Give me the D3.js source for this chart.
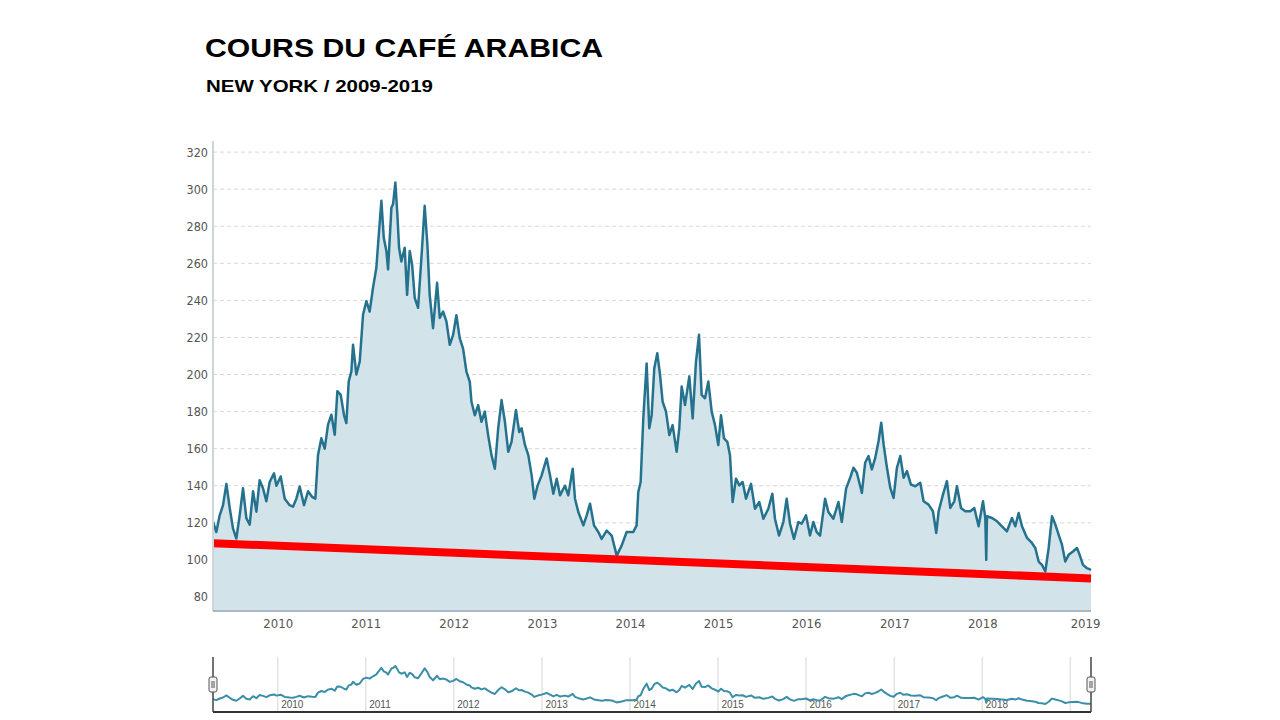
<!DOCTYPE html>
<html lang="fr">
<head>
<meta charset="utf-8">
<title>Cours du café arabica</title>
<script src="https://cdn.jsdelivr.net/npm/d3@7/dist/d3.min.js"></script>
<style>
  html, body { margin: 0; padding: 0; background: #fff; }
  svg { display: block; }
  .title { font-family: "Liberation Sans", Arial, sans-serif; font-weight: bold; fill: #000; }
  .tick-label { font-family: "DejaVu Sans Condensed", "Liberation Sans Narrow", sans-serif; font-size: 12.5px; fill: #555; }
  .nav-label { font-family: "Liberation Sans", Arial, sans-serif; font-size: 10px; fill: #555; }
</style>
</head>
<body>
<svg width="1280" height="720"></svg>
<script>
// decimal years
const years = [
  2009.265, 2009.303, 2009.341, 2009.379, 2009.417, 2009.455, 2009.492, 2009.530, 2009.568, 2009.606,
  2009.644, 2009.682, 2009.720, 2009.758, 2009.795, 2009.833, 2009.871, 2009.909, 2009.958, 2009.985,
  2010.034, 2010.080, 2010.136, 2010.174, 2010.212, 2010.250, 2010.299, 2010.345, 2010.390, 2010.428,
  2010.458, 2010.496, 2010.534, 2010.572, 2010.610, 2010.648, 2010.678, 2010.716, 2010.754, 2010.780,
  2010.807, 2010.837, 2010.856, 2010.894, 2010.932, 2010.970, 2011.008, 2011.045, 2011.083, 2011.121,
  2011.140, 2011.178, 2011.205, 2011.235, 2011.254, 2011.292, 2011.311, 2011.337, 2011.360, 2011.379,
  2011.405, 2011.443, 2011.470, 2011.500, 2011.527, 2011.557, 2011.595, 2011.633, 2011.670, 2011.701,
  2011.727, 2011.765, 2011.811,
  2011.841, 2011.879, 2011.917, 2011.955, 2011.993, 2012.030, 2012.068, 2012.106, 2012.144, 2012.182,
  2012.201, 2012.239, 2012.277, 2012.314, 2012.352, 2012.390, 2012.428, 2012.466, 2012.504, 2012.542,
  2012.580, 2012.618, 2012.655, 2012.705, 2012.742, 2012.769, 2012.807, 2012.845, 2012.883, 2012.913,
  2012.951, 2012.996, 2013.053, 2013.091, 2013.129, 2013.167, 2013.205, 2013.261, 2013.299, 2013.349,
  2013.375, 2013.413, 2013.470, 2013.508, 2013.546, 2013.591, 2013.640, 2013.678, 2013.735, 2013.792,
  2013.849, 2013.905, 2013.962,
  2014.038, 2014.075, 2014.094, 2014.121, 2014.151, 2014.189, 2014.219, 2014.246, 2014.276, 2014.310,
  2014.341, 2014.371, 2014.409, 2014.447, 2014.484, 2014.530, 2014.560, 2014.587, 2014.625, 2014.674,
  2014.712, 2014.750, 2014.784, 2014.814, 2014.852, 2014.890, 2014.928, 2014.966, 2015.003, 2015.034,
  2015.068, 2015.106, 2015.136, 2015.166, 2015.204, 2015.242, 2015.280, 2015.318, 2015.375, 2015.420,
  2015.469, 2015.515, 2015.572, 2015.617, 2015.647, 2015.693, 2015.742, 2015.780, 2015.818, 2015.863,
  2015.913, 2015.950, 2016.000, 2016.045, 2016.083, 2016.121, 2016.159, 2016.216, 2016.253, 2016.310,
  2016.367, 2016.405, 2016.454,
  2016.500, 2016.538, 2016.576, 2016.633, 2016.670, 2016.708, 2016.746, 2016.784, 2016.822, 2016.852,
  2016.879, 2016.917, 2016.955, 2016.992, 2017.030, 2017.068, 2017.106, 2017.144, 2017.189, 2017.239,
  2017.295, 2017.333, 2017.390, 2017.439, 2017.477, 2017.504, 2017.553, 2017.598, 2017.636, 2017.682,
  2017.712, 2017.758, 2017.807, 2017.864, 2017.909, 2017.958, 2018.008, 2018.034, 2018.045, 2018.053,
  2018.110, 2018.167, 2018.223, 2018.280, 2018.337, 2018.375, 2018.413, 2018.451, 2018.508, 2018.564,
  2018.602, 2018.640, 2018.678, 2018.716, 2018.754, 2018.792, 2018.830, 2018.867, 2018.905, 2018.943,
  2018.981, 2019.030, 2019.076, 2019.106, 2019.144, 2019.189, 2019.235
];

// US cents per pound
const prices = [
  120.6, 115, 124, 129.5, 141, 128, 117, 111.5, 124, 138.6,
  122.5, 119, 137, 126, 143, 138.6, 131.6, 142, 146.7, 140,
  145, 133, 129.5, 128.7, 133, 139.5, 129.5, 137, 134, 133,
  156.6, 165.6, 160, 173, 178.3, 167.5, 191, 189, 178, 173.8,
  196.3, 201.7, 216, 200, 207, 232.4, 239.6, 234, 246.8, 257.6,
  270, 293.7, 273.8, 266.6, 256.7, 290, 292, 303.6, 286, 268.4,
  261, 268.4, 243, 266.6, 259.4, 241.4, 236, 263, 291, 270,
  243, 225, 249.5,
  230.5, 234, 228.7, 216, 221.4, 232, 219.6, 214, 201.6, 196,
  185.3, 178, 183.5, 174.5, 180, 167.3, 156.5, 149.2, 171, 186.2,
  174.5, 158.3, 163.7, 180.8, 169, 171, 162, 156.5, 145.6, 133,
  140.2, 145.6, 154.7, 145.6, 135.7, 143.8, 134.8, 140, 134.8, 149.2,
  133, 125.8, 118.6, 124, 130.3, 118.6, 115, 111.3, 115.8, 113.1,
  102.3, 107.7, 115,
  115, 118.6, 136.6, 142, 176.3, 206, 171, 178, 203.4, 211.5,
  200, 185.3, 180, 167.3, 172.7, 158.3, 171, 193.5, 183.5, 199,
  176.3, 207, 221.4, 189, 187.2, 196.2, 180, 172.7, 161.9, 178,
  165.5, 163.7, 156.5, 131.2, 143.8, 140.2, 142, 133, 141, 127.6,
  131.2, 122.2, 127.6, 135.7, 122.2, 113.1, 120.4, 133, 119.5, 111.3,
  120.4, 119.5, 124, 113.1, 120.4, 115, 113.1, 133, 125.8, 122.2,
  131.2, 120.4, 138.4,
  144.3, 149.7, 147, 136.1, 152.4, 156, 148.8, 155, 164.1, 174,
  162.3, 149.7, 138.8, 133.4, 149.7, 156, 144.3, 147.9, 140.6, 139.7,
  141.6, 131.6, 129.8, 126.2, 114.5, 126.2, 135.2, 142.5, 128, 131.6,
  139.7, 128, 126.2, 126.2, 128, 118.1, 131.6, 122.6, 100, 123.5,
  122.6, 120.8, 118.1, 115.4, 122.6, 118.1, 125.3, 118.1, 111.8, 109.1,
  106.4, 99.1, 97.3, 93.7, 106.4, 123.5, 119, 113.6, 108.2, 99.1,
  102.7, 104.5, 106.4, 102.7, 97.3, 95.5, 94.6
];

// red trend line, value at the first and last date
const trendValues = [109, 90];

const yTicks = [80, 100, 120, 140, 160, 180, 200, 220, 240, 260, 280, 300, 320];
const xTickYears = [2010, 2011, 2012, 2013, 2014, 2015, 2016, 2017, 2018];
const navYears = [2010, 2011, 2012, 2013, 2014, 2015, 2016, 2017, 2018, 2019];

const toDate = y => {
  const yr = Math.floor(y);
  const start = new Date(yr, 0, 1);
  const end = new Date(yr + 1, 0, 1);
  return new Date(+start + (y - yr) * (end - start));
};

const onReady = () => {
  const svg = d3.select("svg");
  const data = years.map((y, i) => ({ date: toDate(y), value: prices[i] }));

  // ** TITLES ** //
  svg.append("text").attr("class", "title")
    .attr("x", 205).attr("y", 57)
    .attr("font-size", 26)
    .attr("textLength", 398).attr("lengthAdjust", "spacingAndGlyphs")
    .text("COURS DU CAFÉ ARABICA");
  svg.append("text").attr("class", "title")
    .attr("x", 206).attr("y", 92)
    .attr("font-size", 17)
    .attr("textLength", 227).attr("lengthAdjust", "spacingAndGlyphs")
    .text("NEW YORK / 2009-2019");

  // ** SCALES ** //
  const x = d3.scaleTime()
    .domain(d3.extent(data, d => d.date))
    .range([213, 1091]);
  const y = d3.scaleLinear()
    .domain([72.4, 326])
    .range([611, 141]);

  // ** GRID ** //
  svg.append("g")
    .selectAll("line")
    .data(yTicks)
    .join("line")
    .attr("x1", x.range()[0]).attr("x2", x.range()[1])
    .attr("y1", d => y(d)).attr("y2", d => y(d))
    .attr("stroke", "#d9d9d9")
    .attr("stroke-width", 1)
    .attr("stroke-dasharray", "4,3");

  // ** AREA + LINE ** //
  const area = d3.area()
    .x(d => x(d.date))
    .y0(y.range()[0])
    .y1(d => y(d.value));
  const line = d3.line()
    .x(d => x(d.date))
    .y(d => y(d.value));

  svg.append("path").datum(data)
    .attr("d", area)
    .attr("fill", "#d3e3ea");
  svg.append("path").datum(data)
    .attr("d", line)
    .attr("fill", "none")
    .attr("stroke", "#25728f")
    .attr("stroke-width", 2.5)
    .attr("stroke-linejoin", "round");

  // red trend
  const dom = x.domain();
  svg.append("line")
    .attr("x1", x(dom[0])).attr("y1", y(trendValues[0]))
    .attr("x2", x(dom[1])).attr("y2", y(trendValues[1]))
    .attr("stroke", "#ff0000")
    .attr("stroke-width", 8);

  // ** AXES ** //
  const yAxis = svg.append("g")
    .attr("transform", `translate(${x.range()[0]},0)`)
    .call(d3.axisLeft(y).tickValues(yTicks).tickSize(0).tickPadding(5));
  yAxis.select(".domain").remove();
  yAxis.selectAll("text").attr("class", "tick-label").attr("font-family", null).attr("font-size", null);

  svg.append("line")
    .attr("x1", x.range()[0]).attr("x2", x.range()[0])
    .attr("y1", y.range()[1]).attr("y2", y.range()[0])
    .attr("stroke", "#cdd5db").attr("stroke-width", 2);

  // last label sits at the end of the data
  const xTickDates = xTickYears.map(v => new Date(v, 0, 1)).concat([dom[1]]);
  const xAxis = svg.append("g")
    .attr("transform", `translate(0,${y.range()[0]})`)
    .call(d3.axisBottom(x).tickValues(xTickDates).tickSize(0).tickPadding(8).tickFormat(d3.timeFormat("%Y")));
  xAxis.select(".domain").remove();
  xAxis.selectAll("text").attr("class", "tick-label").attr("font-family", null).attr("font-size", null)
    .style("font-size", "13px");
  xAxis.selectAll(".tick").filter((d, i) => i === xTickDates.length - 1)
    .select("text").attr("dx", -6);

  svg.append("line")
    .attr("x1", x.range()[0]).attr("x2", x.range()[1])
    .attr("y1", y.range()[0]).attr("y2", y.range()[0])
    .attr("stroke", "#a9b8c2").attr("stroke-width", 2);

  // ** NAVIGATOR ** //
  const navTop = 657, navBottom = 712;
  const ny = d3.scaleLinear()
    .domain(d3.extent(data, d => d.value))
    .range([704, 666]);

  svg.append("g")
    .selectAll("line")
    .data(navYears)
    .join("line")
    .attr("x1", d => x(new Date(d, 0, 1))).attr("x2", d => x(new Date(d, 0, 1)))
    .attr("y1", navTop).attr("y2", navBottom)
    .attr("stroke", "#e3e3e3").attr("stroke-width", 1.5);

  svg.append("g")
    .selectAll("text")
    .data(xTickYears)
    .join("text")
    .attr("class", "nav-label")
    .attr("x", d => x(new Date(d, 0, 1)) + 3.5)
    .attr("y", 708)
    .text(d => d);

  svg.append("path").datum(data)
    .attr("d", d3.line().x(d => x(d.date)).y(d => ny(d.value)))
    .attr("fill", "none")
    .attr("stroke", "#3a8ea8")
    .attr("stroke-width", 2)
    .attr("stroke-linejoin", "round");

  svg.append("line")
    .attr("x1", x.range()[0]).attr("x2", x.range()[1])
    .attr("y1", navBottom).attr("y2", navBottom)
    .attr("stroke", "#333").attr("stroke-width", 2);

  // handles at both ends
  const handles = svg.append("g")
    .selectAll("g")
    .data(x.range())
    .join("g")
    .attr("transform", d => `translate(${d},0)`);
  handles.append("line")
    .attr("y1", navTop).attr("y2", navBottom)
    .attr("stroke", "#444").attr("stroke-width", 1.5);
  handles.append("rect")
    .attr("x", -4).attr("y", 677)
    .attr("width", 8).attr("height", 15)
    .attr("rx", 2)
    .attr("fill", "#f2f2f2").attr("stroke", "#555").attr("stroke-width", 1);
  handles.append("line")
    .attr("x1", -1).attr("x2", -1).attr("y1", 681).attr("y2", 688)
    .attr("stroke", "#555");
  handles.append("line")
    .attr("x1", 1).attr("x2", 1).attr("y1", 681).attr("y2", 688)
    .attr("stroke", "#555");
};
document.addEventListener("DOMContentLoaded", onReady);
</script>
</body>
</html>
